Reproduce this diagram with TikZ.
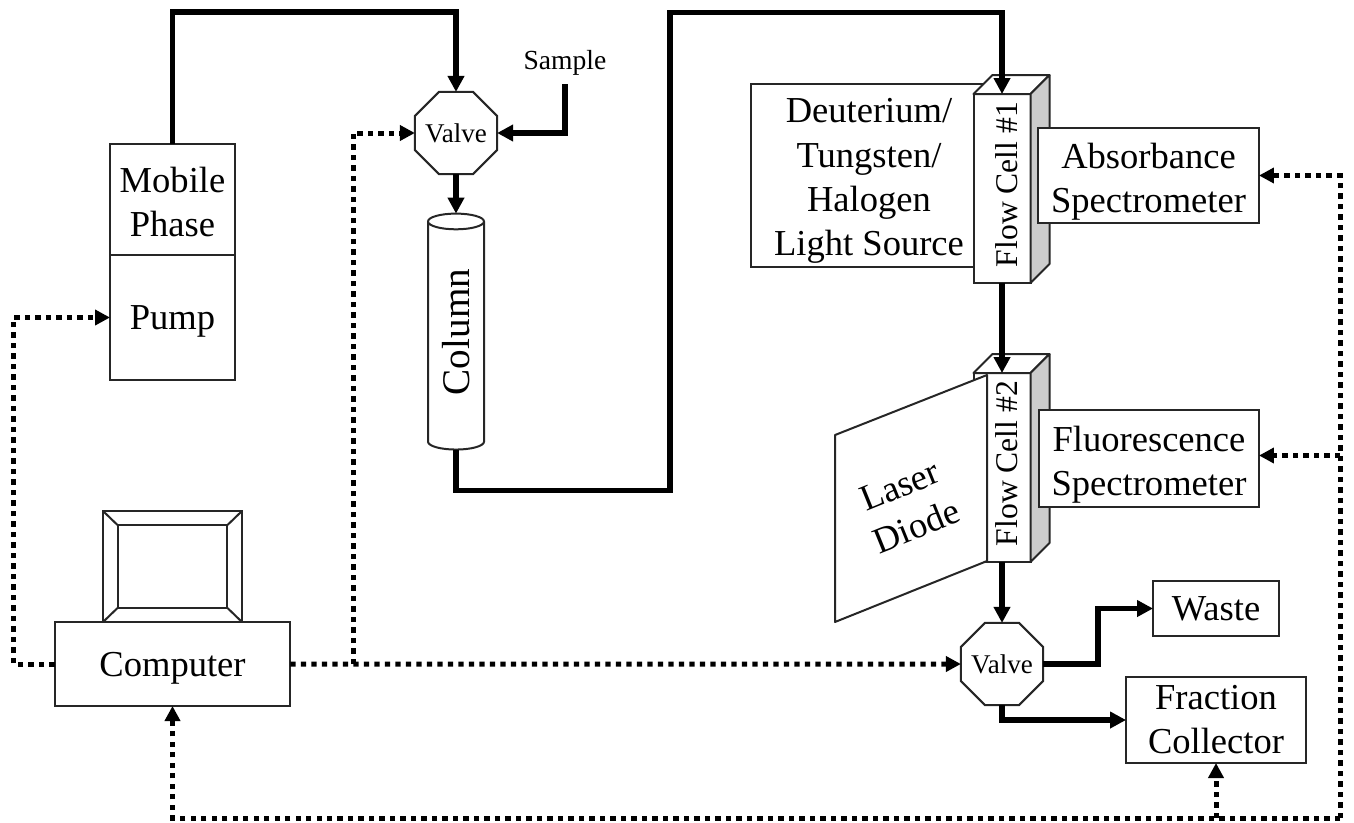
\documentclass[tikz,border=0pt]{standalone}
\usepackage{fontspec}
\setmainfont{Liberation Serif}
\usetikzlibrary{arrows.meta,calc,shapes.geometric}
\definecolor{cellgray}{RGB}{204,204,204}
\definecolor{edgegray}{RGB}{38,38,38}
\newcommand{\celltext}[1]{\hspace*{.2cm}\raisebox{.16cm}{\rotatebox{90}{#1}}}
\newcommand{\dropline}[1]{\rule{0pt}{#1}}

\begin{document}
\begin{tikzpicture}[
      x=0.02cm, y=-0.02cm,
      unitbox/.style={draw=edgegray, fill=white, line width=0.04cm, align=center, inner sep=0pt, outer sep=0pt, font=\fontsize{20.8}{25}\selectfont},
      cellbox/.style={unitbox, minimum width=1.14cm, minimum height=3.78cm, font=\fontsize{18}{20}\selectfont},
      valvebox/.style={draw=edgegray, fill=white, line width=0.04cm, regular polygon, regular polygon sides=8, minimum size=1.78cm, inner sep=0pt, outer sep=0pt, font=\fontsize{15.4}{18}\selectfont},
      cellface/.style={draw=edgegray, line width=0.04cm, line join=round},
      flowline/.style={line width=0.115cm, -{Triangle[length=0.32cm, width=0.32cm]}},
      signalline/.style={line width=0.1cm, dash pattern=on 0.105cm off 0.105cm, -{Triangle[length=0.3cm, width=0.3cm]}}
    ]
      \useasboundingbox (0,0) rectangle (1354,822);

      % Mobile phase, pump, computer
      \node[unitbox, minimum width=2.5cm, minimum height=2.22cm] (phase) at (172.5,199.5) {\dropline{17pt}Mobile\\Phase};
      \node[unitbox, minimum width=2.5cm, minimum height=2.5cm] (pump) at (172.5,317.5) {\dropline{18.2pt}Pump};
      \node[unitbox, minimum width=2.78cm, minimum height=2.22cm] (monitor) at (172.5,566.5) {};
      \node[unitbox, minimum width=2.2cm, minimum height=1.66cm] (screen) at (172.5,566.5) {};
      \draw[cellface] (monitor.north west) -- (screen.north west) (monitor.north east) -- (screen.north east)
        (monitor.south west) -- (screen.south west) (monitor.south east) -- (screen.south east);
      \node[unitbox, minimum width=4.72cm, minimum height=1.68cm] (computer) at (172.5,664) {\dropline{18.5pt}Computer};

      % Injection valve and column
      \node[valvebox] (injector) at (456,133) {\makebox[0pt]{Valve}};
      \node[font=\fontsize{15.7}{18}\selectfont, minimum height=0.84cm, inner sep=0pt, outer sep=0pt] (sample) at (565,63) {Sample};
      \node[draw=edgegray, fill=white, line width=0.04cm, cylinder, rotate=90, aspect=0.57, minimum width=1.12cm, minimum height=4.72cm, inner sep=0pt, outer sep=0pt, font=\fontsize{22.3}{25}\selectfont] (column) at (456,336) {\hspace*{.16cm}Column};

      % Flow cell 1
      \node[unitbox, minimum width=4.72cm, minimum height=3.66cm] (source) at (869,175.5) {\dropline{20.2pt}Deuterium/\\[0.3pt]Tungsten/\\[0.3pt]Halogen\\[0.3pt]Light Source};
      \node[cellbox] (cellone) at (1002,188.5) {\celltext{Flow Cell \#1}};
      \draw[cellface, fill=white] (cellone.north west) -- ++(19,-19) -- ++(57,0) -- ++(-19,19) -- cycle;
      \draw[cellface, fill=cellgray] (cellone.north east) -- ++(19,-19) -- ++(0,189) -- ++(-19,19) -- cycle;
      \node[unitbox, minimum width=4.42cm, minimum height=1.92cm] (absorb) at (1148.5,175.5) {\dropline{21pt}Absorbance\\Spectrometer};

      % Flow cell 2
      \node[cellbox] (celltwo) at (1002,467.5) {\celltext{Flow Cell \#2}};
      \draw[cellface, fill=white] (celltwo.north west) -- ++(19,-19) -- ++(57,0) -- ++(-19,19) -- cycle;
      \draw[cellface, fill=cellgray] (celltwo.north east) -- ++(19,-19) -- ++(0,189) -- ++(-19,19) -- cycle;
      \node[unitbox, minimum width=4.4cm, minimum height=1.94cm] (fluor) at (1149,458.5) {\dropline{21pt}Fluorescence\\Spectrometer};
      \draw[cellface, fill=white] (835,435) -- (987,375) -- (987,561) -- (835,622) -- cycle;
      \node[align=center, rotate=22, inner sep=0pt, font=\fontsize{20.8}{25}\selectfont] (laser) at (908,506) {Laser\\Diode};

      % Outlet
      \node[valvebox] (outlet) at (1002,664) {\makebox[0pt]{Valve}};
      \node[unitbox, minimum width=2.52cm, minimum height=1.1cm] (waste) at (1216,608.5) {Waste};
      \node[unitbox, minimum width=3.6cm, minimum height=1.72cm] (collector) at (1216,720) {Fraction\\Collector};

      % Liquid path
      \draw[flowline] (phase.north) -- ++(0,-132) -| (injector.north);
      \draw[flowline] (sample.south) |- (injector.east);
      \draw[flowline] (injector.south) -- (column.east);
      \draw[flowline] (column.west) |- ++(214,41) -- ++(0,-478) -| (cellone.north);
      \draw[flowline] (cellone.south) -- (celltwo.north);
      \draw[flowline] (celltwo.south) -- (outlet.north);
      \draw[flowline] (outlet.east) -- ++(55,0) |- (waste.west);
      \draw[flowline] (outlet.south) |- (collector.west);

      % Control and data lines
      \coordinate (tap) at (353,664);
      \coordinate (rail) at (1340,818);
      \coordinate (fluorin) at ($(fluor.east)+(0,-3)$);
      \draw[signalline] (computer.west) -- ++(-41,0) |- (pump.west);
      \draw[signalline] (computer.east) -- (outlet.west);
      \draw[signalline] (tap) |- (injector.west);
      \draw[signalline] (rail) -| (computer.south);
      \draw[signalline] (rail) |- (absorb.east);
      \draw[signalline] (rail |- fluorin) -- (fluorin);
      \draw[signalline] (collector.south |- rail) -- (collector.south);
    \end{tikzpicture}
\end{document}
